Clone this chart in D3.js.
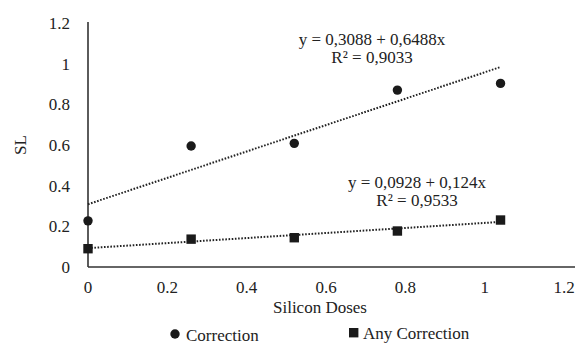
<!DOCTYPE html>
<html>
<head>
<meta charset="UTF-8">
<script src="https://cdn.jsdelivr.net/npm/d3@7"></script>
<style>
  body { margin: 0; background: #fff; }
  text { font-family: "Liberation Serif", "Times New Roman", serif; fill: #222; font-size: 17px; }
</style>
</head>
<body>
<svg id="chart" width="575" height="350"></svg>
<script>
// data
var doses = [0, 0.26, 0.52, 0.78, 1.04];
var correction = [0.227, 0.595, 0.608, 0.87, 0.903];
var anyCorrection = [0.09, 0.137, 0.144, 0.177, 0.231];
var xTicks = [0, 0.2, 0.4, 0.6, 0.8, 1, 1.2];
var yTicks = [0, 0.2, 0.4, 0.6, 0.8, 1, 1.2];
var fitCorrection = [0.3088, 0.6488];   // intercept, slope
var fitAny = [0.0928, 0.124];
var eqCorrection = ["y = 0,3088 + 0,6488x", "R² = 0,9033"];
var eqAny = ["y = 0,0928 + 0,124x", "R² = 0,9533"];

var svg = d3.select("#chart");

var x = d3.scaleLinear().domain([0, 1.2]).range([88, 564]);
var y = d3.scaleLinear().domain([0, 1.2]).range([267, 23]);

var fmt = function(d) { return d === 0 ? "0" : String(d); };

// y tick labels
svg.append("g").selectAll("text")
  .data(yTicks).enter().append("text")
  .attr("x", 70)
  .attr("y", function(d) { return y(d); })
  .attr("dy", "0.35em")
  .attr("text-anchor", "end")
  .text(fmt);

// x tick labels
svg.append("g").selectAll("text")
  .data(xTicks).enter().append("text")
  .attr("x", function(d) { return x(d); })
  .attr("y", 287)
  .attr("dy", "0.35em")
  .attr("text-anchor", "middle")
  .text(fmt);

// axis lines
svg.append("line")
  .attr("x1", x(0)).attr("x2", x(0))
  .attr("y1", y(1.2) - 1).attr("y2", y(0))
  .attr("stroke", "#333").attr("stroke-width", 1.6);
svg.append("line")
  .attr("x1", x(0)).attr("x2", 575)
  .attr("y1", y(0)).attr("y2", y(0))
  .attr("stroke", "#333").attr("stroke-width", 1.6);

// trend lines
function trend(fit) {
  var x0 = doses[0], x1 = doses[doses.length - 1];
  svg.append("line")
    .attr("x1", x(x0)).attr("y1", y(fit[0] + fit[1] * x0))
    .attr("x2", x(x1)).attr("y2", y(fit[0] + fit[1] * x1))
    .attr("stroke", "#222")
    .attr("stroke-width", 2)
    .attr("stroke-dasharray", "1.6,1.6");
}
trend(fitCorrection);
trend(fitAny);

// circles
svg.append("g").selectAll("circle")
  .data(doses).enter().append("circle")
  .attr("cx", function(d) { return x(d); })
  .attr("cy", function(d, i) { return y(correction[i]); })
  .attr("r", 4.7)
  .attr("fill", "#1a1a1a");

// squares
svg.append("g").selectAll("rect")
  .data(doses).enter().append("rect")
  .attr("x", function(d) { return x(d) - 4.7; })
  .attr("y", function(d, i) { return y(anyCorrection[i]) - 4.7; })
  .attr("width", 9.4).attr("height", 9.4)
  .attr("fill", "#1a1a1a");

// equations
function equation(lines, cx, cy) {
  svg.append("g").selectAll("text")
    .data(lines).enter().append("text")
    .attr("x", cx)
    .attr("y", function(d, i) { return cy + i * 18.5; })
    .attr("dy", "0.35em")
    .attr("text-anchor", "middle")
    .text(function(d) { return d; });
}
equation(eqCorrection, 372, 39);
equation(eqAny, 417, 182);

// axis titles
svg.append("text")
  .attr("transform", "translate(20,145) rotate(-90)")
  .attr("text-anchor", "middle")
  .attr("dy", "0.35em")
  .text("SL");
svg.append("text")
  .attr("x", 320).attr("y", 307)
  .attr("dy", "0.35em")
  .attr("text-anchor", "middle")
  .text("Silicon Doses");

// legend
var leg = svg.append("g");
leg.append("circle").attr("cx", 175).attr("cy", 334).attr("r", 4.7).attr("fill", "#1a1a1a");
leg.append("text").attr("x", 186).attr("y", 335).attr("dy", "0.35em").text("Correction");
leg.append("rect").attr("x", 349).attr("y", 328).attr("width", 9.4).attr("height", 9.4).attr("fill", "#1a1a1a");
leg.append("text").attr("x", 363).attr("y", 333).attr("dy", "0.35em").text("Any Correction");
</script>
</body>
</html>
